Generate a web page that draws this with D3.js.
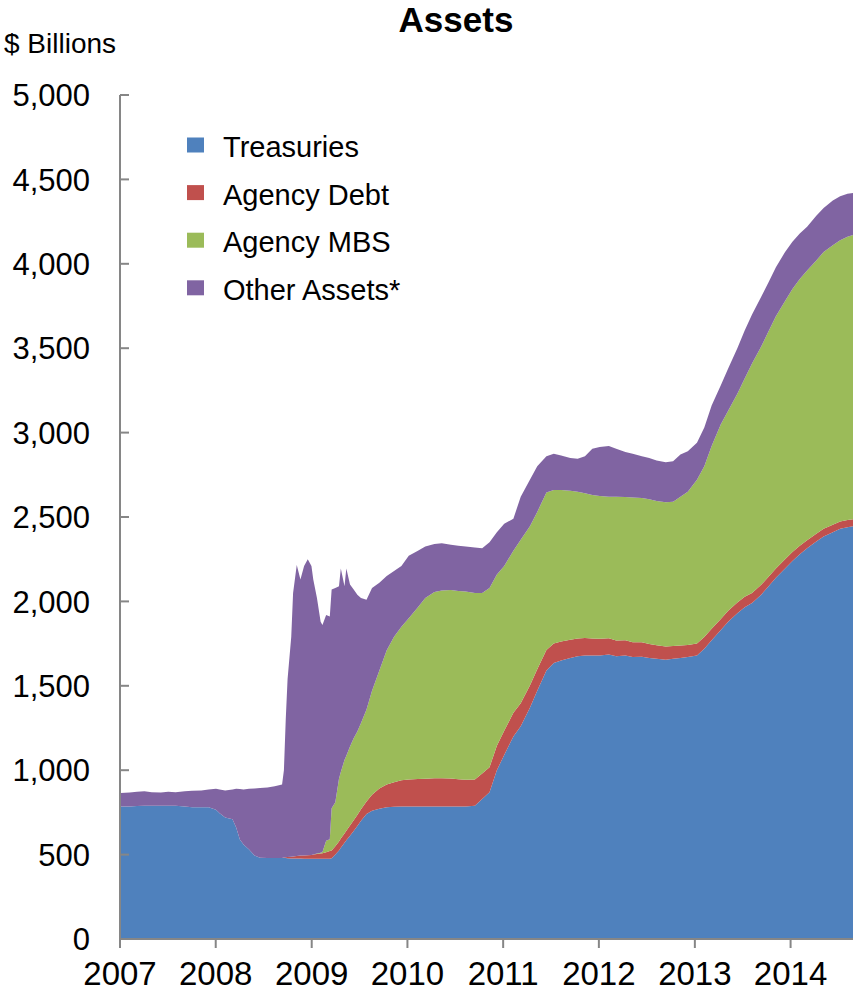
<!DOCTYPE html>
<html>
<head>
<meta charset="utf-8">
<script src="https://cdnjs.cloudflare.com/ajax/libs/d3/7.8.5/d3.min.js"></script>
<style>
  body { margin: 0; background: #fff; }
  svg text { font-family: "Liberation Sans", Arial, sans-serif; fill: #000; }
</style>
</head>
<body>
<svg id="chart" width="853" height="995"></svg>
<script>
var dates = [
  "2007-01-03","2007-02-07","2007-03-07","2007-04-04","2007-05-02","2007-06-06","2007-07-04","2007-08-01",
  "2007-09-05","2007-10-03","2007-11-07","2007-12-05","2008-01-02","2008-01-16","2008-02-06","2008-03-05",
  "2008-03-19","2008-04-02","2008-04-16","2008-05-07","2008-05-28","2008-06-18","2008-07-16","2008-08-13",
  "2008-09-10","2008-09-17","2008-09-24","2008-10-01","2008-10-15","2008-10-22","2008-11-05","2008-11-19",
  "2008-12-03","2008-12-17","2008-12-31","2009-01-07","2009-01-21","2009-02-04","2009-02-11","2009-02-25",
  "2009-03-11","2009-03-18","2009-04-01","2009-04-15","2009-04-22","2009-05-06","2009-05-13","2009-05-27",
  "2009-06-10","2009-06-24","2009-07-08","2009-07-29","2009-08-19","2009-09-16","2009-10-14","2009-11-11",
  "2009-12-09","2010-01-06","2010-02-10","2010-03-10","2010-04-14","2010-05-12","2010-06-16","2010-07-14",
  "2010-08-11","2010-09-15","2010-10-13","2010-11-10","2010-12-08","2011-01-05","2011-02-09","2011-03-09",
  "2011-04-13","2011-05-11","2011-06-15","2011-07-13","2011-08-10","2011-09-14","2011-10-12","2011-11-09",
  "2011-12-07","2012-01-04","2012-02-08","2012-03-07","2012-04-11","2012-05-09","2012-06-13","2012-07-11",
  "2012-08-08","2012-09-12","2012-10-10","2012-11-07","2012-12-05","2013-01-09","2013-02-06","2013-03-06",
  "2013-04-10","2013-05-08","2013-06-12","2013-07-10","2013-08-07","2013-09-11","2013-10-09","2013-11-06",
  "2013-12-11","2014-01-08","2014-02-05","2014-03-05","2014-04-09","2014-05-07","2014-06-11","2014-07-09",
  "2014-08-06","2014-08-27"
];

var treasuries = [
  785,785,788,790,790,790,790,790, 785,780,780,780,765,745,720,710,
  660,590,560,530,495,482,480,480, 480,480,480,478,477,477,477,477,
  476,476,476,476,476,476,476,476, 476,478,500,525,540,570,585,612,
  640,670,700,740,760,772,780,783, 785,785,785,785,785,785,785,785,
  785,790,830,870,1000,1090,1200,1260, 1370,1470,1590,1635,1650,1665,1675,1680,
  1680,1680,1685,1675,1680,1670,1672,1665, 1660,1655,1660,1665,1670,1680,1720,1770,
  1830,1880,1930,1965,1990,2040,2090,2140, 2195,2240,2280,2315,2355,2385,2410,2430,
  2440,2445
];

var agencyDebt = [
  0,0,0,0,0,0,0,0, 0,0,0,0,0,0,0,0,
  0,0,0,0,0,0,0,0, 0,3,5,8,10,12,15,17,
  18,20,22,24,27,30,32,38, 45,47,50,52,55,55,57,60,
  63,65,68,75,95,120,135,145, 155,160,163,165,168,168,166,162,
  158,155,150,147,145,143,140,137, 132,128,122,115,112,108,105,103,
  100,98,96,93,90,88,86,83, 80,78,76,74,72,70,69,68,
  66,65,64,62,60,58,56,55, 54,52,50,48,46,45,44,43,
  42,42
];

var agencyMBS = [
  0,0,0,0,0,0,0,0, 0,0,0,0,0,0,0,0,
  0,0,0,0,0,0,0,0, 0,0,0,0,0,0,0,0,
  0,0,0,0,3,5,8,68, 70,250,260,373,395,435,443,468,
  487,495,512,545,615,698,795,862, 910,955,1017,1070,1102,1112,1117,1115,
  1115,1105,1070,1063,1015,977,960,968, 943,932,933,910,898,882,870,857,
  850,847,839,852,848,857,854,857, 855,855,854,881,908,970,1011,1082,
  1154,1185,1236,1293,1360,1412,1454,1495, 1531,1558,1580,1597,1619,1640,1656,1667,
  1678,1683
];

var otherAssets = [
  80,83,84,85,80,78,82,80, 90,98,100,105,125,140,160,175,
  230,298,325,360,397,413,418,425, 435,517,815,1054,1303,1561,1723,1636,
  1716,1754,1712,1630,1514,1369,1344,1338, 1319,1295,1270,1140,1205,1030,1110,960,
  880,810,740,650,610,520,440,390, 360,370,335,305,285,280,267,268,
  267,270,265,270,250,250,190,255, 275,270,215,215,205,195,195,220,
  275,290,300,285,267,260,248,245, 240,237,240,250,240,220,230,240,
  230,250,270,285,290,295,290,290, 290,280,270,260,265,260,265,260,
  255,250
];

var seriesNames = ["Treasuries", "Agency Debt", "Agency MBS", "Other Assets*"];
var seriesColors = ["#4F81BD", "#C0504D", "#9BBB59", "#8064A2"];
var yTicks = [0, 500, 1000, 1500, 2000, 2500, 3000, 3500, 4000, 4500, 5000];
var yearTicks = [2007, 2008, 2009, 2010, 2011, 2012, 2013, 2014];

var parseDate = d3.timeParse("%Y-%m-%d");

// rows for the stack
var rows = dates.map(function(d, i) {
  return {
    date: parseDate(d),
    "Treasuries": treasuries[i],
    "Agency Debt": agencyDebt[i],
    "Agency MBS": agencyMBS[i],
    "Other Assets*": otherAssets[i]
  };
});

var svg = d3.select("#chart");
// plot box (NOTE: 'top' is reserved on window, so keep these in an object)
var plot = {left: 120, right: 853, top: 95, bottom: 939};

var x = d3.scaleTime()
    .domain([new Date(2007, 0, 1), new Date(2014, 7, 27)])
    .range([plot.left, plot.right]);

var y = d3.scaleLinear()
    .domain([0, 5000])
    .range([plot.bottom, plot.top]);

var stack = d3.stack().keys(seriesNames);
var layers = stack(rows);

var area = d3.area()
    .x(function(d) { return x(d.data.date); })
    .y0(function(d) { return y(d[0]); })
    .y1(function(d) { return y(d[1]); });

svg.append("g")
  .selectAll("path")
  .data(layers)
  .enter().append("path")
    .attr("d", area)
    .attr("fill", function(d, i) { return seriesColors[i]; });

//--- axes
var axisColor = "#868686";

var yAxis = svg.append("g").attr("class", "y-axis");
yAxis.append("line")
    .attr("x1", plot.left).attr("x2", plot.left)
    .attr("y1", y(5000)).attr("y2", y(0))
    .attr("stroke", axisColor).attr("stroke-width", 2);
yAxis.selectAll("line.tick")
  .data(yTicks)
  .enter().append("line")
    .attr("class", "tick")
    .attr("x1", plot.left).attr("x2", plot.left + 9)
    .attr("y1", function(d) { return y(d); })
    .attr("y2", function(d) { return y(d); })
    .attr("stroke", axisColor).attr("stroke-width", 2);
yAxis.selectAll("text")
  .data(yTicks)
  .enter().append("text")
    .attr("x", 90)
    .attr("y", function(d) { return y(d); })
    .attr("dy", "0.36em")
    .attr("text-anchor", "end")
    .style("font-size", "31px")
    .text(function(d) { return d3.format(",")(d); });

var xAxis = svg.append("g").attr("class", "x-axis");
xAxis.append("line")
    .attr("x1", plot.left).attr("x2", plot.right)
    .attr("y1", plot.bottom).attr("y2", plot.bottom)
    .attr("stroke", axisColor).attr("stroke-width", 2);
xAxis.selectAll("line.tick")
  .data(yearTicks)
  .enter().append("line")
    .attr("class", "tick")
    .attr("x1", function(d) { return x(new Date(d, 0, 1)); })
    .attr("x2", function(d) { return x(new Date(d, 0, 1)); })
    .attr("y1", plot.bottom).attr("y2", plot.bottom + 9)
    .attr("stroke", axisColor).attr("stroke-width", 2);
xAxis.selectAll("text")
  .data(yearTicks)
  .enter().append("text")
    .attr("x", function(d) { return x(new Date(d, 0, 1)); })
    .attr("y", 985)
    .attr("text-anchor", "middle")
    .style("font-size", "33px")
    .text(function(d) { return d; });

//--- titles
svg.append("text")
    .attr("x", 456).attr("y", 32)
    .attr("text-anchor", "middle")
    .style("font-size", "35px")
    .style("font-weight", "bold")
    .text("Assets");

svg.append("text")
    .attr("x", 4).attr("y", 53)
    .style("font-size", "28px")
    .text("$ Billions");

//--- legend
var legend = svg.append("g").attr("class", "legend");
var item = legend.selectAll("g")
  .data(seriesNames)
  .enter().append("g")
    .attr("transform", function(d, i) { return "translate(187," + (145 + i * 47.6) + ")"; });
item.append("rect")
    .attr("x", 0).attr("y", -7.5)
    .attr("width", 17).attr("height", 15)
    .attr("fill", function(d, i) { return seriesColors[i]; });
item.append("text")
    .attr("x", 36).attr("y", 12)
    .style("font-size", "29px")
    .text(function(d) { return d; });
</script>
</body>
</html>
